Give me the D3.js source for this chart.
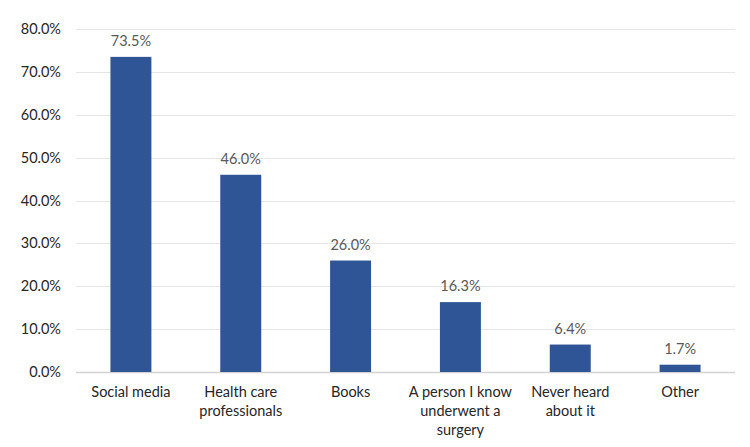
<!DOCTYPE html>
<html>
<head>
<meta charset="utf-8">
<script src="https://cdn.jsdelivr.net/npm/d3@7"></script>
<style>
  body { margin: 0; background: #fff; }
  svg text { font-family: "Lato", "Open Sans", sans-serif; font-size: 14.5px; }
</style>
</head>
<body>
<div id="chart"></div>
<script>
// data
const categories = [
  'Social media',
  'Health care professionals',
  'Books',
  'A person I know underwent a surgery',
  'Never heard about it',
  'Other'
];
const categoryLines = [
  ['Social media'],
  ['Health care', 'professionals'],
  ['Books'],
  ['A person I know', 'underwent a', 'surgery'],
  ['Never heard', 'about it'],
  ['Other']
];
const values = [73.5, 46.0, 26.0, 16.3, 6.4, 1.7];
const yTicks = [0, 10, 20, 30, 40, 50, 60, 70, 80];

const width = 750, height = 447;
const margin = { top: 29, right: 15, bottom: 75, left: 76 };

const svg = d3.select('#chart').append('svg')
  .attr('width', width)
  .attr('height', height);

// scales in page pixels, so nothing needs a transform
const xScale = d3.scaleBand()
  .domain(categories)
  .range([margin.left, width - margin.right])
  .paddingInner(0.627)
  .paddingOuter(0.3135);

const yScale = d3.scaleLinear()
  .domain([0, 80])
  .range([height - margin.bottom, margin.top]);

const pct = d => d.toFixed(1) + '%';
const xMid = i => xScale(categories[i]) + xScale.bandwidth() / 2;

// gridlines
svg.selectAll('line.grid').data(yTicks)
  .enter().append('line')
  .attr('class', 'grid')
  .attr('x1', margin.left)
  .attr('x2', width - margin.right)
  .attr('y1', d => Math.round(yScale(d)) + 0.5)
  .attr('y2', d => Math.round(yScale(d)) + 0.5)
  .attr('stroke', d => d === 0 ? '#d4d4d4' : '#e6e6e6')
  .attr('stroke-width', d => d === 0 ? 1.5 : 1);

// y tick labels
svg.selectAll('text.ytick').data(yTicks)
  .enter().append('text')
  .attr('class', 'ytick')
  .attr('x', margin.left - 15)
  .attr('y', d => yScale(d) + 5)
  .attr('text-anchor', 'end')
  .attr('fill', '#262626')
  .text(pct);

// bars
svg.selectAll('rect.bar').data(values)
  .enter().append('rect')
  .attr('class', 'bar')
  .attr('x', (d, i) => xScale(categories[i]))
  .attr('y', d => yScale(d))
  .attr('width', xScale.bandwidth())
  .attr('height', d => yScale(0) - yScale(d))
  .attr('fill', '#2F5597');

// value labels
svg.selectAll('text.val').data(values)
  .enter().append('text')
  .attr('class', 'val')
  .attr('x', (d, i) => xMid(i))
  .attr('y', d => yScale(d) - 11)
  .attr('text-anchor', 'middle')
  .attr('fill', '#595959')
  .text(pct);

// category labels, one text per line
categories.forEach((c, i) => {
  categoryLines[i].forEach((line, j) => {
    svg.append('text')
      .attr('x', xMid(i))
      .attr('y', yScale(0) + 25 + j * 19)
      .attr('text-anchor', 'middle')
      .attr('fill', '#262626')
      .text(line);
  });
});
</script>
</body>
</html>
